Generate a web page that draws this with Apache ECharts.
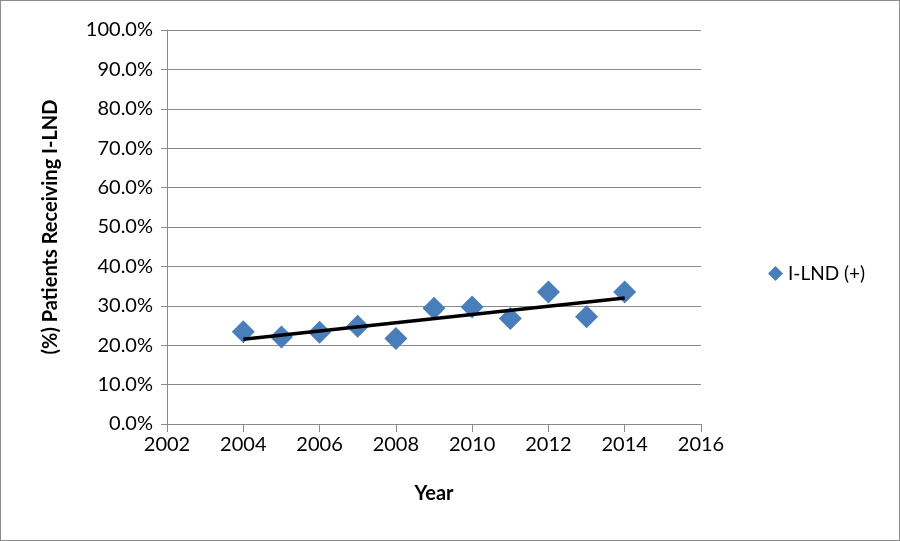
<!DOCTYPE html>
<html>
<head>
<meta charset="utf-8">
<script src="https://cdn.jsdelivr.net/npm/echarts@6/dist/echarts.min.js"></script>
<style>
  html, body { margin: 0; padding: 0; background: #fff; }
  #chart {
    width: 898px;
    height: 539px;
    border: 1px solid #8c8c8c;
  }
</style>
</head>
<body>
<div id="chart"></div>
<script>
// data
const years = [2004, 2005, 2006, 2007, 2008, 2009, 2010, 2011, 2012, 2013, 2014]
const pctILnd = [23.4, 22.1, 23.3, 24.8, 21.7, 29.4, 29.7, 26.8, 33.5, 27.2, 33.5]
const trendYears = [2004, 2014]
const trendPct = [21.5, 32.0]

const seriesName = 'I-LND (+)'
const fontFam = 'Lato, "Open Sans", sans-serif'
const gridGray = '#8a8a8a'

const chart = echarts.init(document.getElementById('chart'))

const option = {
  animation: false,
  textStyle: { fontFamily: fontFam },
  grid: {
    left: 166,
    right: 198,
    top: 29,
    bottom: 116
  },
  legend: {
    data: [{ name: seriesName, icon: 'diamond' }],
    orient: 'vertical',
    left: 762,
    top: 258,
    itemWidth: 15,
    itemHeight: 15,
    itemGap: 6,
    textStyle: { fontSize: 19, color: '#000', fontFamily: fontFam }
  },
  xAxis: {
    type: 'value',
    min: 2002,
    max: 2016,
    interval: 2,
    name: 'Year',
    nameLocation: 'middle',
    nameGap: 60,
    nameTextStyle: { fontSize: 20, fontWeight: 'bold', color: '#000' },
    axisLine: { show: true, lineStyle: { color: gridGray, width: 1 } },
    axisTick: { show: true, length: 8, inside: false, lineStyle: { color: gridGray } },
    axisLabel: { fontSize: 20, color: '#000', margin: 11, formatter: v => String(v) },
    splitLine: { show: false }
  },
  yAxis: {
    type: 'value',
    min: 0,
    max: 100,
    interval: 10,
    name: '(%) Patients Receiving I-LND',
    nameLocation: 'middle',
    nameGap: 106,
    nameRotate: 90,
    nameTextStyle: { fontSize: 20, fontWeight: 'bold', color: '#000' },
    axisLine: { show: true, lineStyle: { color: gridGray, width: 1 } },
    axisTick: { show: true, length: 6, lineStyle: { color: gridGray } },
    axisLabel: {
      fontSize: 20,
      color: '#000',
      margin: 14,
      formatter: v => v.toFixed(1) + '%'
    },
    splitLine: { show: true, lineStyle: { color: gridGray, width: 1 } }
  },
  series: [
    {
      name: seriesName,
      type: 'scatter',
      symbol: 'diamond',
      symbolSize: 23,
      itemStyle: { color: '#4a7ebb', opacity: 1 },
      data: years.map((y, i) => [y, pctILnd[i]]),
      z: 2
    },
    {
      name: 'trend',
      type: 'line',
      symbol: 'none',
      lineStyle: { color: '#000', width: 3.5 },
      data: trendYears.map((y, i) => [y, trendPct[i]]),
      z: 3
    }
  ]
}

chart.setOption(option)
</script>
</body>
</html>
